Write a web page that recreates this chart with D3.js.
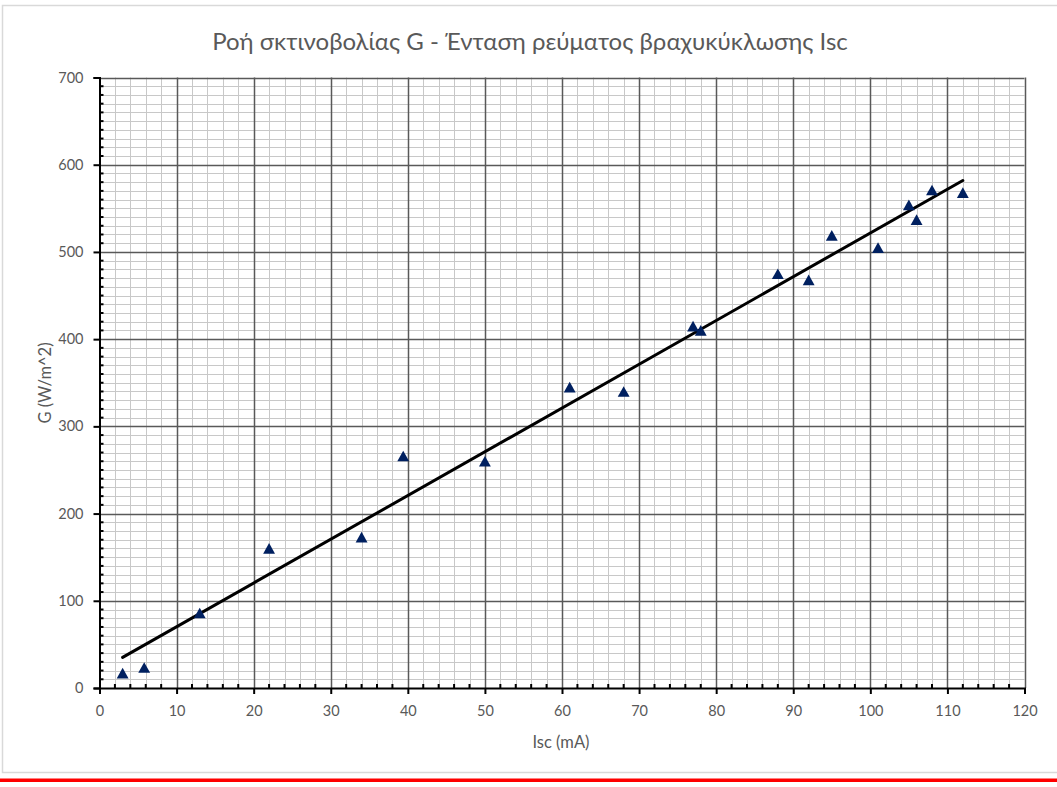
<!DOCTYPE html>
<html>
<head>
<meta charset="utf-8">
<script src="https://cdn.jsdelivr.net/npm/d3@7/dist/d3.min.js"></script>
<style>
  html, body { margin: 0; padding: 0; background: #fff; }
  svg { display: block; }
  text { font-family: "Lato", "Open Sans", sans-serif; fill: #595959; }
</style>
</head>
<body>
<svg id="chart" width="1057" height="787"></svg>
<script>
// ---- data ----
const iscValues = [3, 5.8, 13, 22, 34, 39.4, 50, 61, 68, 77, 78, 88, 92, 95, 101, 105, 106, 108, 112];
const gValues   = [17, 23.5, 86, 160, 173, 266, 260, 345, 340, 415, 410, 475, 468, 519, 505, 554, 537, 571, 568];
const xTickValues = [0, 10, 20, 30, 40, 50, 60, 70, 80, 90, 100, 110, 120];
const yTickValues = [0, 100, 200, 300, 400, 500, 600, 700];
const titleText = "Ροή σκτινοβολίας G - Ένταση ρεύματος βραχυκύκλωσης Isc";
const xLabel = "Isc (mA)";
const yLabel = "G (W/m^2)";

// ---- layout ----
const W = 1057, H = 787;
const plot = { left: 99.5, right: 1024.5, top: 77.5, bottom: 688 };
const svg = d3.select("#chart");

// outer chart border + red line
svg.append("rect").attr("x", 2.5).attr("y", 5.5).attr("width", W + 10).attr("height", 767)
  .attr("fill", "#fff").attr("stroke", "#d9d9d9").attr("stroke-width", 1.5);
svg.append("rect").attr("x", 0).attr("y", 778.5).attr("width", W).attr("height", 3.5).attr("fill", "#ff0000");

const x = d3.scaleLinear().domain([0, 120]).range([plot.left, plot.right]);
const y = d3.scaleLinear().domain([0, 700]).range([plot.bottom, plot.top]);

const g = svg.append("g");

// minor grid
const xMinor = d3.range(0, 120.001, 2).filter(v => v % 10 !== 0);
const yMinor = d3.range(0, 700.001, 10).filter(v => v % 100 !== 0);
g.selectAll(".vminor").data(xMinor).join("line")
  .attr("x1", d => Math.round(x(d)) + 0.5).attr("x2", d => Math.round(x(d)) + 0.5)
  .attr("y1", plot.top).attr("y2", plot.bottom)
  .attr("stroke", "#c8c8c8").attr("stroke-width", 1);
g.selectAll(".hminor").data(yMinor).join("line")
  .attr("y1", d => Math.round(y(d)) + 0.5).attr("y2", d => Math.round(y(d)) + 0.5)
  .attr("x1", plot.left).attr("x2", plot.right)
  .attr("stroke", "#c8c8c8").attr("stroke-width", 1);
// major grid
g.selectAll(".vmajor").data(xTickValues.filter(v => v > 0)).join("line")
  .attr("x1", d => Math.round(x(d)) + 0.5).attr("x2", d => Math.round(x(d)) + 0.5)
  .attr("y1", plot.top).attr("y2", plot.bottom)
  .attr("stroke", "#595959").attr("stroke-width", 1.5);
g.selectAll(".hmajor").data(yTickValues.filter(v => v > 0)).join("line")
  .attr("y1", d => Math.round(y(d)) + 0.5).attr("y2", d => Math.round(y(d)) + 0.5)
  .attr("x1", plot.left).attr("x2", plot.right)
  .attr("stroke", "#595959").attr("stroke-width", 1.5);

// axes
const xAxis = d3.axisBottom(x).tickValues(xTickValues).tickSize(6).tickPadding(12).tickFormat(d3.format("d"));
const yAxis = d3.axisLeft(y).tickValues(yTickValues).tickSize(6).tickPadding(10).tickFormat(d3.format("d"));
const gx = svg.append("g").attr("transform", `translate(0,${plot.bottom})`).call(xAxis);
const gy = svg.append("g").attr("transform", `translate(${plot.left},0)`).call(yAxis);
[gx, gy].forEach(a => {
  a.select(".domain").attr("stroke", "#000").attr("stroke-width", 2);
  a.selectAll(".tick line").attr("stroke", "#000").attr("stroke-width", 2);
  a.selectAll(".tick text").style("font-size", "14.5px").attr("fill", "#595959");
});
// minor ticks (inside)
svg.append("g").selectAll("line").data(xMinor).join("line")
  .attr("x1", d => x(d)).attr("x2", d => x(d))
  .attr("y1", plot.bottom).attr("y2", plot.bottom - 4)
  .attr("stroke", "#000").attr("stroke-width", 2);
svg.append("g").selectAll("line").data(yMinor).join("line")
  .attr("y1", d => y(d)).attr("y2", d => y(d))
  .attr("x1", plot.left).attr("x2", plot.left + 4)
  .attr("stroke", "#000").attr("stroke-width", 2);

// trend line (least squares on data)
const n = iscValues.length;
const mx = d3.mean(iscValues), my = d3.mean(gValues);
let sxy = 0, sxx = 0;
for (let i = 0; i < n; i++) { sxy += (iscValues[i] - mx) * (gValues[i] - my); sxx += (iscValues[i] - mx) ** 2; }
const slope = sxy / sxx, intercept = my - slope * mx;
const xr = d3.extent(iscValues);
svg.append("line")
  .attr("x1", x(xr[0])).attr("y1", y(intercept + slope * xr[0]))
  .attr("x2", x(xr[1])).attr("y2", y(intercept + slope * xr[1]))
  .attr("stroke", "#000").attr("stroke-width", 3).attr("stroke-linecap", "round");

// markers: bbox-centred triangle (Excel style)
const triType = {
  draw(ctx, size) {
    const w = Math.sqrt(size * 2.2), h = w * 0.9;
    ctx.moveTo(0, -h / 2); ctx.lineTo(w / 2, h / 2); ctx.lineTo(-w / 2, h / 2); ctx.closePath();
  }
};
const tri = d3.symbol().type(triType).size(64);
svg.append("g").selectAll("path").data(iscValues.map((v, i) => [v, gValues[i]])).join("path")
  .attr("d", tri)
  .attr("transform", d => `translate(${x(d[0])},${y(d[1])})`)
  .attr("fill", "#002060");

// titles
svg.append("text").attr("x", 530).attr("y", 50).attr("text-anchor", "middle")
  .style("font-size", "24px").text(titleText);
svg.append("text").attr("x", 561).attr("y", 748).attr("text-anchor", "middle")
  .style("font-size", "16.5px").text(xLabel);
svg.append("text").attr("transform", "translate(51,383) rotate(-90)").attr("text-anchor", "middle")
  .style("font-size", "16.5px").text(yLabel);
</script>
</body>
</html>
